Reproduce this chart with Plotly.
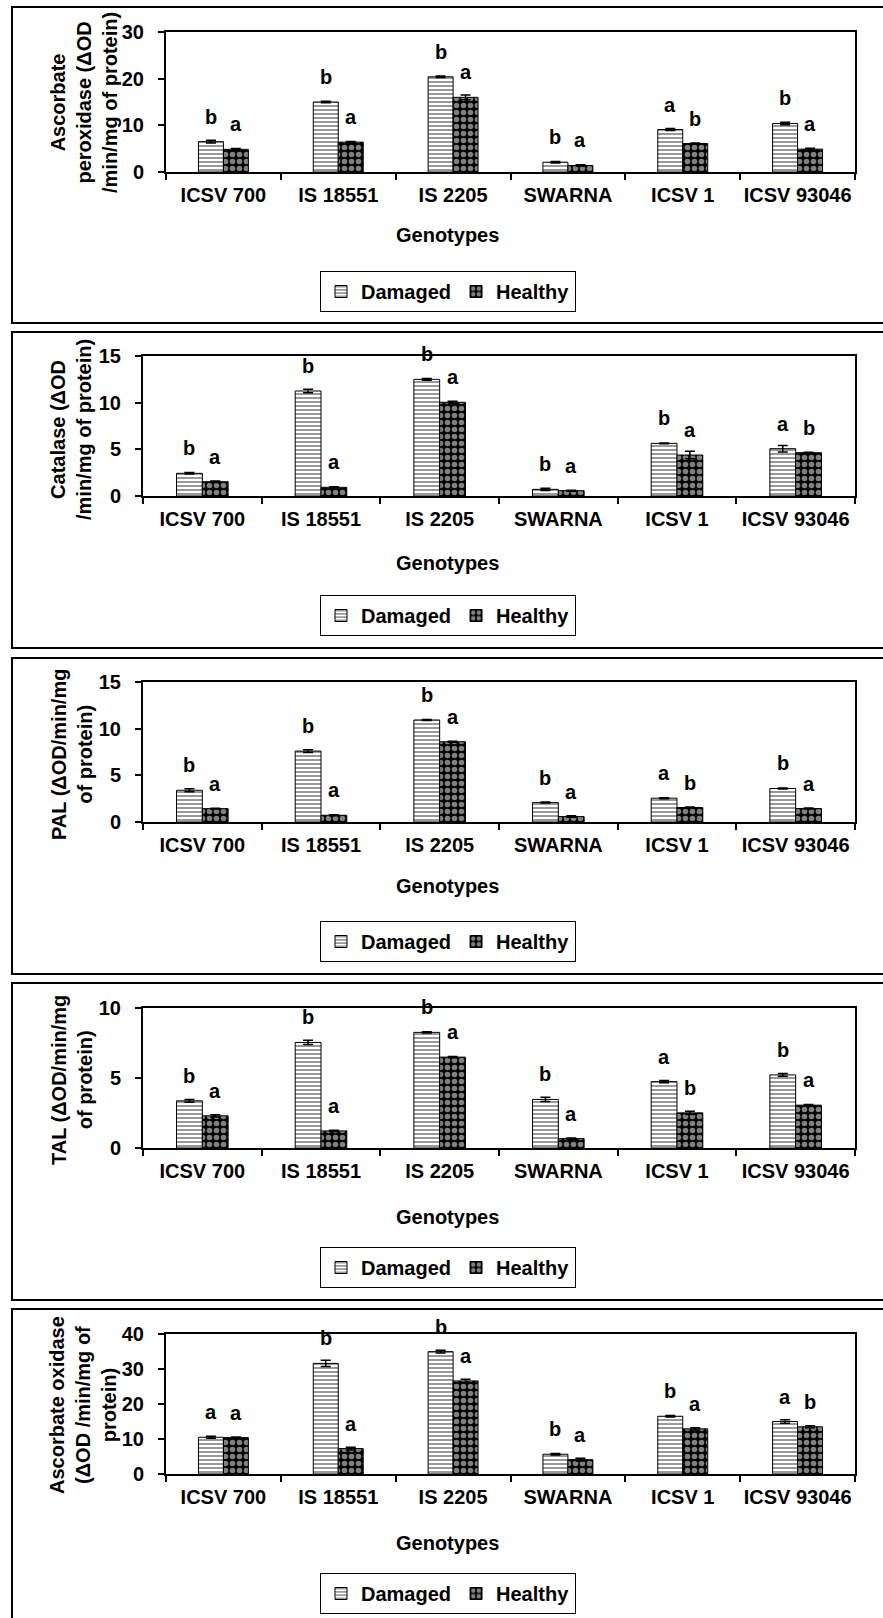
import plotly.graph_objects as go

# ---------------- data ----------------
genotypes = ["ICSV 700", "IS 18551", "IS 2205", "SWARNA", "ICSV 1", "ICSV 93046"]
series_names = ["Damaged", "Healthy"]

# Panel 1: Ascorbate peroxidase
apx_damaged = [6.5, 15.0, 20.4, 2.1, 9.1, 10.4]
apx_damaged_err = [0.3, 0.15, 0.15, 0.15, 0.2, 0.25]
apx_healthy = [4.85, 6.4, 16.0, 1.4, 6.1, 4.9]
apx_healthy_err = [0.2, 0.15, 0.5, 0.15, 0.1, 0.2]
apx_damaged_letters = ["b", "b", "b", "b", "a", "b"]
apx_healthy_letters = ["a", "a", "a", "a", "b", "a"]

# Panel 2: Catalase
cat_damaged = [2.43, 11.25, 12.5, 0.71, 5.64, 5.07]
cat_damaged_err = [0.08, 0.2, 0.1, 0.12, 0.05, 0.35]
cat_healthy = [1.53, 0.93, 10.04, 0.57, 4.39, 4.64]
cat_healthy_err = [0.08, 0.05, 0.1, 0.05, 0.4, 0.05]
cat_damaged_letters = ["b", "b", "b", "b", "b", "a"]
cat_healthy_letters = ["a", "a", "a", "a", "a", "b"]

# Panel 3: PAL
pal_damaged = [3.4, 7.6, 10.93, 2.08, 2.55, 3.59]
pal_damaged_err = [0.15, 0.15, 0.05, 0.05, 0.05, 0.05]
pal_healthy = [1.43, 0.72, 8.6, 0.58, 1.55, 1.44]
pal_healthy_err = [0.05, 0.05, 0.05, 0.08, 0.05, 0.05]
pal_damaged_letters = ["b", "b", "b", "b", "a", "b"]
pal_healthy_letters = ["a", "a", "a", "a", "b", "a"]

# Panel 4: TAL
tal_damaged = [3.37, 7.54, 8.26, 3.47, 4.74, 5.22]
tal_damaged_err = [0.1, 0.15, 0.05, 0.15, 0.08, 0.1]
tal_healthy = [2.3, 1.22, 6.49, 0.67, 2.51, 3.06]
tal_healthy_err = [0.08, 0.05, 0.05, 0.05, 0.12, 0.05]
tal_damaged_letters = ["b", "b", "b", "b", "a", "b"]
tal_healthy_letters = ["a", "a", "a", "a", "b", "a"]

# Panel 5: Ascorbate oxidase
aao_damaged = [10.5, 31.6, 34.96, 5.64, 16.5, 15.0]
aao_damaged_err = [0.3, 0.9, 0.4, 0.2, 0.2, 0.5]
aao_healthy = [10.4, 7.27, 26.6, 4.1, 12.9, 13.5]
aao_healthy_err = [0.2, 0.4, 0.5, 0.4, 0.3, 0.3]
aao_damaged_letters = ["a", "b", "b", "b", "b", "a"]
aao_healthy_letters = ["a", "a", "a", "a", "a", "b"]

y_titles = [
    "Ascorbate<br>peroxidase (ΔOD<br>/min/mg of protein)",
    "Catalase (ΔOD<br>/min/mg of protein)",
    "PAL (ΔOD/min/mg<br>of protein)",
    "TAL (ΔOD/min/mg<br>of protein)",
    "Ascorbate oxidase<br>(ΔOD /min/mg of<br>protein)",
]
y_max = [30, 15, 15, 10, 40]
y_dtick = [10, 5, 5, 5, 10]
x_title = "Genotypes"

panels = [
    (apx_damaged, apx_damaged_err, apx_healthy, apx_healthy_err, apx_damaged_letters, apx_healthy_letters),
    (cat_damaged, cat_damaged_err, cat_healthy, cat_healthy_err, cat_damaged_letters, cat_healthy_letters),
    (pal_damaged, pal_damaged_err, pal_healthy, pal_healthy_err, pal_damaged_letters, pal_healthy_letters),
    (tal_damaged, tal_damaged_err, tal_healthy, tal_healthy_err, tal_damaged_letters, tal_healthy_letters),
    (aao_damaged, aao_damaged_err, aao_healthy, aao_healthy_err, aao_damaged_letters, aao_healthy_letters),
]

# ---------------- layout geometry (pixels) ----------------
W, H = 883, 1618
RIGHT = 855
geom = [
    dict(left=166, top=32, bottom=172, box=(7, 323), xt=235, yt=(84, 103), leg=291.5),
    dict(left=143, top=356, bottom=496, box=(332, 648), xt=563, yt=(71, 430), leg=615.5),
    dict(left=143, top=682, bottom=822, box=(658, 974), xt=886, yt=(72, 755), leg=941.5),
    dict(left=143, top=1008, bottom=1148, box=(983, 1300), xt=1217, yt=(72, 1080), leg=1267.5),
    dict(left=166, top=1334, bottom=1474, box=(1309, 1660), xt=1543, yt=(83, 1405), leg=1593.5),
]

def px(x):
    return x / W

def py(y):
    return 1 - y / H

FONT = "Liberation Sans, Arial, sans-serif"
FS = 20
BOLD = dict(family=FONT, size=FS, color="black", weight="bold")

fig = go.Figure()
annotations = []
shapes = []
layout_axes = {}
OFF = 0.109  # half of one bar width in category units

for i, (p, g) in enumerate(zip(panels, geom), start=1):
    d, de, h, he, dl, hl = p
    sfx = "" if i == 1 else str(i)
    xa, ya = "x" + sfx, "y" + sfx
    leg = "legend" + sfx
    fig.add_trace(go.Bar(
        x=genotypes, y=d, name=series_names[0], xaxis=xa, yaxis=ya, legend=leg,
        marker=dict(color="white", line=dict(color="black", width=1),
                    pattern=dict(shape="-", fgcolor="black", bgcolor="white", size=4, solidity=0.4)),
        error_y=dict(type="data", array=de, color="black", thickness=1.5, width=5),
    ))
    fig.add_trace(go.Bar(
        x=genotypes, y=h, name=series_names[1], xaxis=xa, yaxis=ya, legend=leg,
        marker=dict(color="black", line=dict(color="black", width=1),
                    pattern=dict(shape=".", fgcolor="white", bgcolor="black", size=7, solidity=0.5)),
        error_y=dict(type="data", array=he, color="black", thickness=1.5, width=5),
    ))
    for k in range(len(genotypes)):
        annotations.append(dict(x=k - OFF, y=d[k], xref=xa, yref=ya, text=dl[k], showarrow=False,
                                yshift=25, font=BOLD))
        annotations.append(dict(x=k + OFF, y=h[k], xref=xa, yref=ya, text=hl[k], showarrow=False,
                                yshift=25, font=BOLD))
    # axis titles
    annotations.append(dict(x=px(448), y=py(g["xt"]), xref="paper", yref="paper", text=x_title,
                            showarrow=False, xanchor="center", yanchor="middle", font=BOLD))
    annotations.append(dict(x=px(g["yt"][0]), y=py(g["yt"][1]), xref="paper", yref="paper",
                            text=y_titles[i - 1], textangle=-90, showarrow=False,
                            xanchor="center", yanchor="middle", font=BOLD))
    # outer panel frame
    shapes.append(dict(type="rect", xref="paper", yref="paper", x0=px(12), x1=px(900),
                       y0=py(g["box"][1]), y1=py(g["box"][0]), line=dict(color="black", width=2)))
    layout_axes["xaxis" + sfx] = dict(
        domain=[px(g["left"]), px(RIGHT)], anchor=ya, type="category", automargin=False,
        showline=True, linecolor="black", linewidth=2, mirror=True, tickangle=0,
        ticks="outside", tickson="boundaries", ticklen=6, tickwidth=2, tickcolor="black",
        tickfont=BOLD, ticklabelstandoff=4, showgrid=False, zeroline=False,
    )
    layout_axes["yaxis" + sfx] = dict(
        domain=[py(g["bottom"]), py(g["top"])], anchor=xa, range=[0, y_max[i - 1]], automargin=False,
        dtick=y_dtick[i - 1], showline=True, linecolor="black", linewidth=2, mirror=True,
        ticks="outside", ticklen=6, tickwidth=2, tickcolor="black",
        tickfont=BOLD, ticklabelstandoff=10, showgrid=False, zeroline=False,
    )
    layout_axes[leg] = dict(
        orientation="h", x=px(448), y=py(g["leg"]), xanchor="center", yanchor="middle",
        bordercolor="black", borderwidth=1, bgcolor="white", font=BOLD, itemwidth=30,
        traceorder="normal",
    )

fig.update_layout(
    width=W, height=H, margin=dict(l=0, r=0, t=0, b=0, pad=0, autoexpand=False),
    paper_bgcolor="white", plot_bgcolor="white",
    barmode="group", bargap=0.565, bargroupgap=0,
    font=BOLD, annotations=annotations, shapes=shapes, showlegend=True,
    **layout_axes,
)

fig.write_html("out.html")
